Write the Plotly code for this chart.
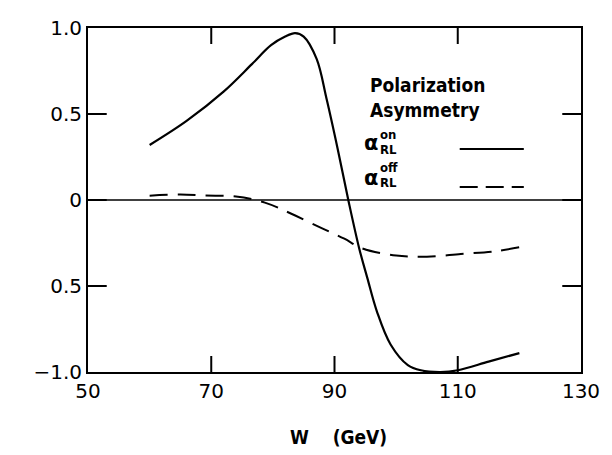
import plotly.graph_objects as go

# ---- data ----
w_on = [60, 66, 72, 76.6, 79.7, 82.0, 83.6, 85.0, 87.1, 88.7, 90.5, 92.3, 94.0, 95.3,
        96.9, 99.1, 101.9, 104, 107.2, 110, 115, 120]
a_on = [0.32, 0.46, 0.63, 0.79, 0.90, 0.95, 0.97, 0.95, 0.82, 0.59, 0.30, -0.01, -0.28,
        -0.45, -0.65, -0.84, -0.96, -0.99, -1.0, -0.99, -0.94, -0.89]

w_off = [60, 65, 69, 74, 78.7, 83, 88, 91.6, 94.4, 100, 105, 110.5, 115.8, 120]
a_off = [0.025, 0.032, 0.026, 0.02, -0.015, -0.08, -0.165, -0.225, -0.28, -0.323,
         -0.33, -0.314, -0.299, -0.275]

zero_w = [50, 130]
zero_a = [0, 0]

x_ticks = [50, 70, 90, 110, 130]
x_ticktext = ["50", "70", "90", "110", "130"]
y_ticks = [-1.0, -0.5, 0, 0.5, 1.0]
y_ticktext = ["\u22121.0", "0.5", "0", "0.5", "1.0"]
x_inner = [70, 90, 110]      # inner tick marks on the frame
y_inner = [-0.5, 0, 0.5]

X0, X1 = 50, 130
Y0, Y1 = -1.0, 1.0

# ---- figure ----
W, H = 612, 455
ml, mr, mt, mb = 88, 24, 28, 83
pw, ph = W - ml - mr, H - mt - mb


def px(x):
    return (x - ml) / pw


def py(y):
    return (H - mb - y) / ph


# tick lengths converted from pixels into axis units
xt_len = 16 / ph * (Y1 - Y0)
yt_len = 19 / pw * (X1 - X0)
tx, ty = [], []
for xv in x_inner:
    tx += [xv, xv, None, xv, xv, None]
    ty += [Y0, Y0 + xt_len, None, Y1, Y1 - xt_len, None]
for yv in y_inner:
    tx += [X0, X0 + yt_len, None, X1, X1 - yt_len, None]
    ty += [yv, yv, None, yv, yv, None]

fig = go.Figure()
fig.add_trace(go.Scatter(x=tx, y=ty, mode="lines", line=dict(color="black", width=2),
                         showlegend=False, cliponaxis=False))
fig.add_trace(go.Scatter(x=zero_w, y=zero_a, mode="lines",
                         line=dict(color="black", width=1.5), showlegend=False))
fig.add_trace(go.Scatter(x=w_off, y=a_off, mode="lines", line_shape="spline",
                         line=dict(color="black", width=2, dash="18px,10px"),
                         showlegend=False))
fig.add_trace(go.Scatter(x=w_on, y=a_on, mode="lines", line_shape="spline",
                         line=dict(color="black", width=2.2), showlegend=False))

tickfont = dict(family="DejaVu Sans", size=20, color="black")
fig.update_layout(
    xaxis=dict(range=[X0, X1], tickmode="array", tickvals=x_ticks, ticktext=x_ticktext,
               ticks="", showline=True, linecolor="black", linewidth=2, mirror=True,
               showgrid=False, zeroline=False, tickfont=tickfont),
    yaxis=dict(range=[Y0, Y1], tickmode="array", tickvals=y_ticks, ticktext=y_ticktext,
               ticks="", showline=True, linecolor="black", linewidth=2, mirror=True,
               showgrid=False, zeroline=False, tickfont=tickfont),
)

lfont = dict(family="DejaVu Sans Condensed", size=19, color="black", weight="bold")
afont = dict(family="DejaVu Sans", size=21, color="black", weight="bold")
sfont = dict(family="DejaVu Sans Condensed", size=13, color="black", weight="bold")
ann = []
ann.append(dict(text="Polarization", x=px(372), y=py(85), xanchor="left", yanchor="middle",
                font=lfont))
ann.append(dict(text="Asymmetry", x=px(372), y=py(110), xanchor="left", yanchor="middle",
                font=lfont))
ann.append(dict(text="\u03b1", x=px(366), y=py(143), xanchor="left", yanchor="middle",
                font=afont))
ann.append(dict(text="on", x=px(382), y=py(134), xanchor="left", yanchor="middle",
                font=sfont))
ann.append(dict(text="RL", x=px(382), y=py(149), xanchor="left", yanchor="middle",
                font=sfont))
ann.append(dict(text="\u03b1", x=px(366), y=py(178), xanchor="left", yanchor="middle",
                font=afont))
ann.append(dict(text="off", x=px(382), y=py(168), xanchor="left", yanchor="middle",
                font=sfont))
ann.append(dict(text="RL", x=px(382), y=py(182), xanchor="left", yanchor="middle",
                font=sfont))
ann.append(dict(text="W&nbsp;&nbsp;&nbsp;&nbsp;(GeV)", x=px(342), y=py(437),
                xanchor="center", yanchor="middle",
                font=dict(family="DejaVu Sans Condensed", size=19, color="black",
                          weight="bold")))
for a in ann:
    a.update(xref="paper", yref="paper", showarrow=False)

shapes = [
    dict(type="line", xref="paper", yref="paper", x0=px(465), x1=px(530),
         y0=py(149), y1=py(149), line=dict(color="black", width=2)),
    dict(type="line", xref="paper", yref="paper", x0=px(465), x1=px(530),
         y0=py(187), y1=py(187), line=dict(color="black", width=2, dash="18px,8px")),
]

fig.update_layout(width=W, height=H, margin=dict(l=ml, r=mr, t=mt, b=mb),
                  paper_bgcolor="white", plot_bgcolor="white",
                  annotations=ann, shapes=shapes, showlegend=False)

fig.write_html("out.html")
